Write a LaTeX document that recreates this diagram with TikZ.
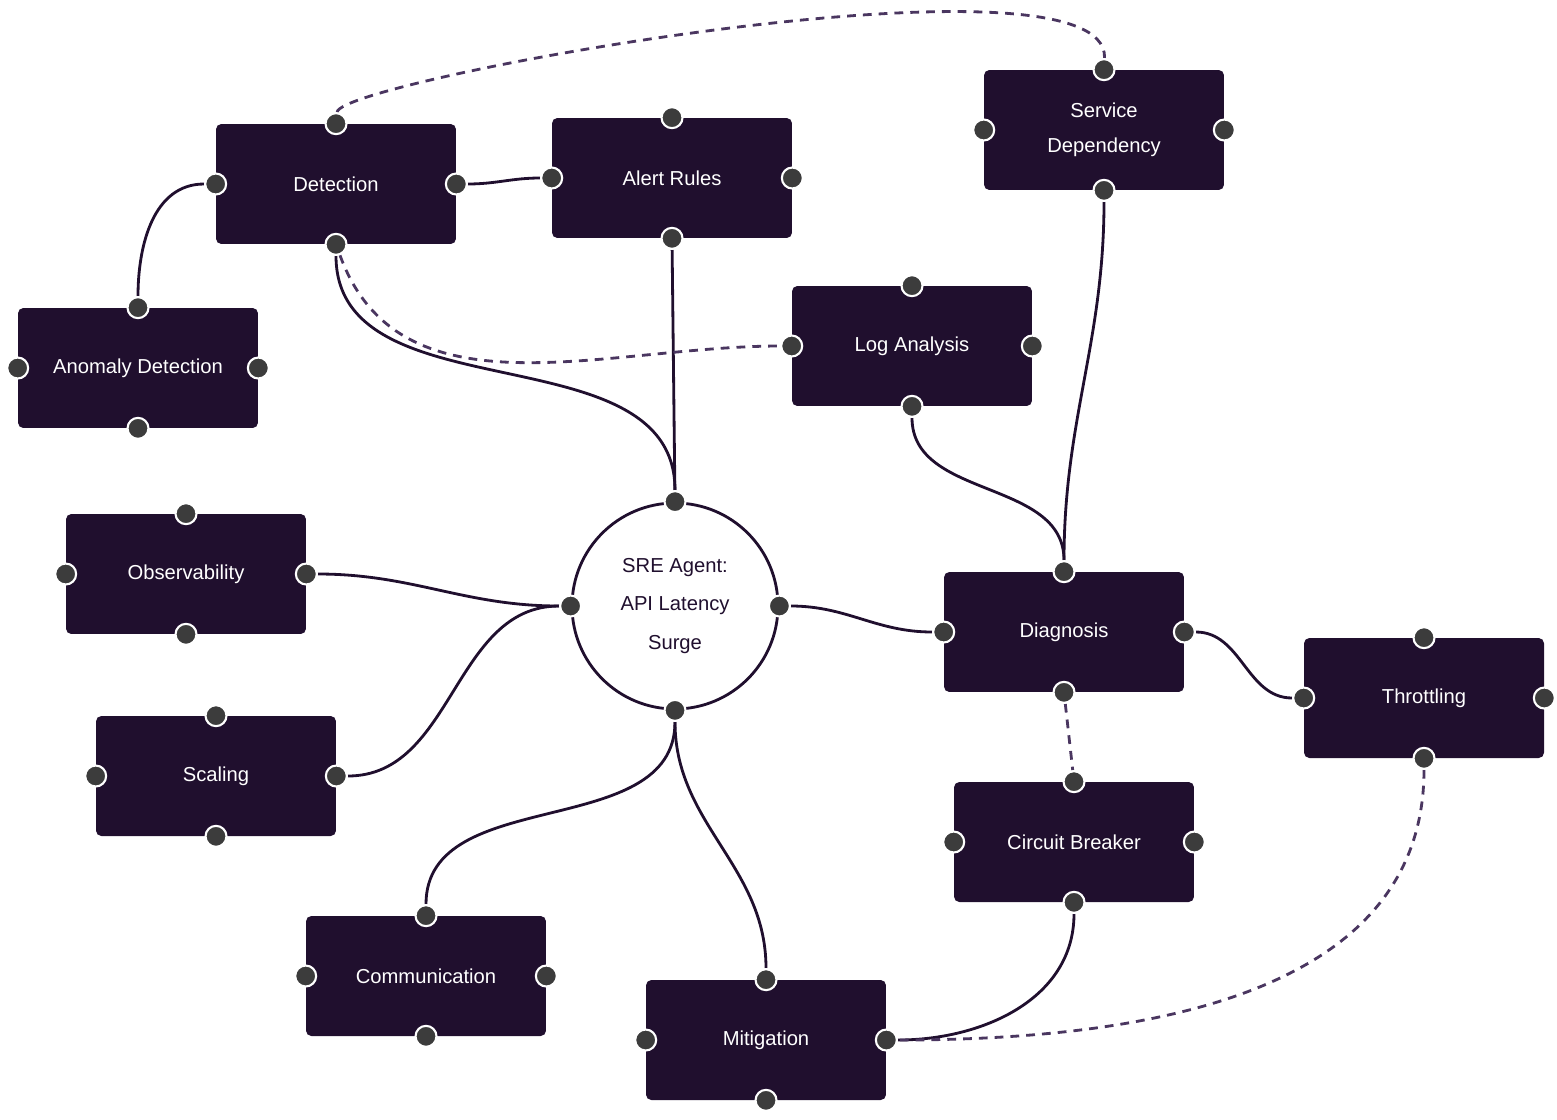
\documentclass[tikz,border=0pt]{standalone}
\usepackage{fontspec}
\setmainfont{Liberation Sans}
\definecolor{boxfill}{HTML}{200F2E}
\definecolor{dashcol}{HTML}{4A3660}
\definecolor{portfill}{HTML}{3C3C3C}
\pgfdeclarelayer{background}
\pgfsetlayers{background,main}
\tikzset{
  box/.style={draw=none, fill=boxfill, rounded corners=3pt, minimum width=4.8cm,
    minimum height=2.4cm, text=white, font=\fontsize{11.5}{14}\selectfont, align=center},
  hub/.style={circle, draw=boxfill, line width=1.6pt, fill=white, minimum size=4.12cm,
    text=boxfill, font=\fontsize{11.5}{22}\selectfont, align=center},
  port/.style={circle, fill=portfill, draw=white, line width=1.2pt, minimum size=0.42cm, inner sep=0pt},
  link/.style={draw=boxfill, line width=1.6pt},
  soft/.style={draw=dashcol, line width=1.6pt, dash pattern=on 5pt off 4pt}
}
\newcommand\ports[2]{%
  \foreach \a/\s in {north/n,south/s,east/e,west/w}
    \node[port] (#2-\s) at (#1.\a) {};}
\begin{document}
\begin{tikzpicture}[x=0.02cm, y=-0.02cm]
\useasboundingbox (0,0) rectangle (1557,1119);

\node[box] (det) at (336,184) {Detection};
\node[box] (alert) at (672,178) {Alert Rules};
\node[box] (serv) at (1104,130) {Service\\[6pt]Dependency};
\node[box] (anom) at (138,368) {Anomaly Detection};
\node[box] (log) at (912,346) {Log Analysis};
\node[box] (obs) at (186,574) {Observability};
\node[box] (scal) at (216,776) {Scaling};
\node[box] (diag) at (1064,632) {Diagnosis};
\node[box] (thr) at (1424,698) {Throttling};
\node[box] (circ) at (1074,842) {Circuit Breaker};
\node[box] (comm) at (426,976) {Communication};
\node[box] (mit) at (766,1040) {Mitigation};
\node[hub] (sre) at (675,606) {SRE Agent:\\API Latency\\Surge};

\ports{det}{det} \ports{alert}{alert} \ports{serv}{serv} \ports{anom}{anom}
\ports{log}{log} \ports{obs}{obs} \ports{scal}{scal} \ports{diag}{diag}
\ports{thr}{thr} \ports{circ}{circ} \ports{comm}{comm} \ports{mit}{mit}
\ports{sre}{sre}

\begin{pgfonlayer}{background}
% solid links
\draw[link] (det-e) to[out=0, in=180] (alert-w);
\draw[link] (det-w) to[out=180, in=90] (anom-n);
\draw[link] (det-s) to[out=-90, in=90] (sre-n);
\draw[link] (alert-s) -- (sre-n);
\draw[link] (serv-s) to[out=-90, in=90] (diag-n);
\draw[link] (log-s) to[out=-90, in=90] (diag-n);
\draw[link] (obs-e) to[out=0, in=180] (sre-w);
\draw[link] (scal-e) to[out=0, in=180] (sre-w);
\draw[link] (sre-e) to[out=0, in=180] (diag-w);
\draw[link] (diag-e) to[out=0, in=180] (thr-w);
\draw[link] (sre-s) to[out=-90, in=90] (comm-n);
\draw[link] (sre-s) to[out=-90, in=90] (mit-n);
\draw[link] (circ-s) to[out=-90, in=0] (mit-e);
% dashed links
\draw[soft] (det-n) .. controls (340,80) and (1110,-60) .. (serv-n);
\draw[soft] (det-s) to[out=-70, in=180] (log-w);
\draw[soft] (diag-s) -- (circ-n);
\draw[soft] (thr-s) to[out=-90, in=0] (mit-e);
\end{pgfonlayer}
\end{tikzpicture}
\end{document}
